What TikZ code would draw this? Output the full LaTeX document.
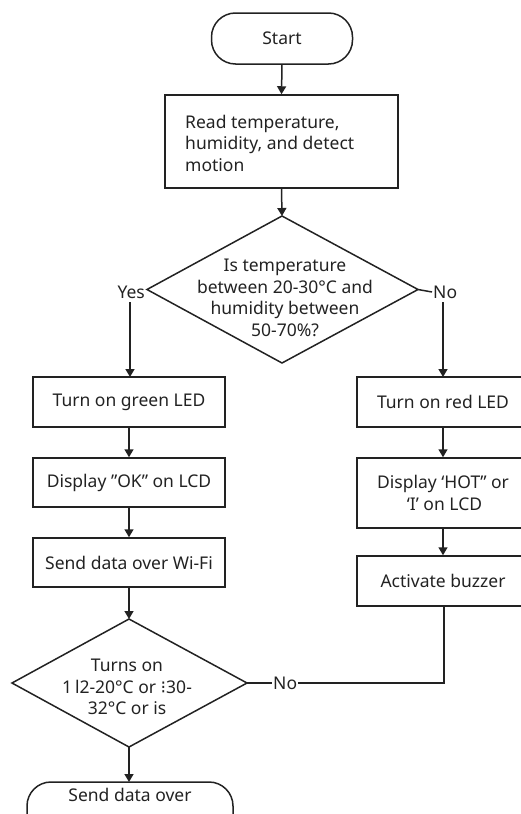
\documentclass[tikz,border=0pt]{standalone}
\usepackage{fontspec}
\setmainfont{Noto Sans}
\newfontfamily\symfont{DejaVu Sans}
\usetikzlibrary{arrows.meta,shapes.geometric}
\definecolor{ink}{HTML}{222222}
\tikzset{
  every node/.style={font=\fontsize{17.5}{21.5}\selectfont, text=ink},
  boxnode/.style={draw=ink, line width=1.5pt, rectangle, inner sep=0pt, align=center},
  termnode/.style={draw=ink, line width=1.5pt, rectangle, rounded corners=24pt, inner sep=0pt, align=center},
  lbl/.style={inner sep=1pt},
  flow/.style={draw=ink, line width=1.5pt, -{Triangle[length=8pt,width=9pt]}},
  plain/.style={draw=ink, line width=1.5pt}
}
\begin{document}
\begin{tikzpicture}[x=1pt,y=-1pt]
\useasboundingbox (0,0) rectangle (521,814);
\begin{scope}
\clip (0,0) rectangle (521,814);
% Start
\node[termnode, minimum width=141pt, minimum height=51pt] (start) at (282,38.5) {Start};
% Read
\node[boxnode, minimum width=233pt, minimum height=93pt] (read) at (281.5,141.5) {};
\node[anchor=west, align=left, inner sep=0pt] (readtxt) at (185,143) {Read temperature,\\humidity, and detect\\motion};
% Decision 1
\coordinate (d1top) at (282,216);
\coordinate (d1left) at (147,289.5);
\coordinate (d1right) at (418,289.5);
\coordinate (d1bot) at (282,363);
\draw[plain] (d1top) -- (d1right) -- (d1bot) -- (d1left) -- cycle;
\node[align=center, inner sep=0pt] (d1txt) at (285,298) {Is temperature\\between 20-30°C and\\humidity between\\50-70\%?};
\node[lbl, anchor=east] (yes) at (146,292) {Yes};
\node[lbl, anchor=west] (no1) at (432,292) {No};
\draw[plain] (d1right) -- (no1.west);
% Left column
\node[boxnode, minimum width=192pt, minimum height=50pt] (green) at (129,402) {Turn on green LED};
\node[boxnode, minimum width=192pt, minimum height=49pt] (ok) at (129,482.5) {Display ”OK” on LCD};
\node[boxnode, minimum width=192pt, minimum height=49pt] (wifi) at (129,562.5) {Send data over Wi-Fi};
% Right column
\node[boxnode, minimum width=172pt, minimum height=50pt] (red) at (443,402) {Turn on red LED};
\node[boxnode, minimum width=172pt, minimum height=70pt] (hot) at (443,493) {Display ‘HOT” or\\ \,‘I’ on LCD};
\node[boxnode, minimum width=172pt, minimum height=50pt] (buzz) at (443,581) {Activate buzzer};
% Decision 2
\coordinate (d2top) at (129,619);
\coordinate (d2left) at (12,683);
\coordinate (d2right) at (247,683);
\coordinate (d2bot) at (129,747);
\draw[plain] (d2top) -- (d2right) -- (d2bot) -- (d2left) -- cycle;
\node[align=center, inner sep=0pt] (d2txt) at (127,687) {Turns on\\1\,l2-20°C or {\symfont ⁝}30-\\32°C or is};
\node[lbl, anchor=west] (no2) at (272,683) {No};
% End terminator (cut off)
\draw[plain, rounded corners=24pt] (27,850) -- (27,782) -- (233,782) -- (233,850);
\coordinate (endtop) at (129,782);
\node[inner sep=0pt] (endtxt) at (130,795) {Send data over};
% Connectors
\draw[flow] (start.south) -- (read.north);
\draw[flow] (read.south) -- (d1top);
\draw[flow] (130,302) -- (130,377);
\draw[flow] (443,302) -- (443,377);
\draw[flow] (green.south) -- (ok.north);
\draw[flow] (ok.south) -- (wifi.north);
\draw[flow] (wifi.south) -- (d2top);
\draw[flow] (red.south) -- (hot.north);
\draw[flow] (hot.south) -- (buzz.north);
\draw[flow] (d2bot) -- (endtop);
\draw[plain] (d2right) -- (no2.west);
\draw[plain] (no2.east) -- (444,683) -- (buzz.south -| 444,0);
\end{scope}
\end{tikzpicture}
\end{document}
